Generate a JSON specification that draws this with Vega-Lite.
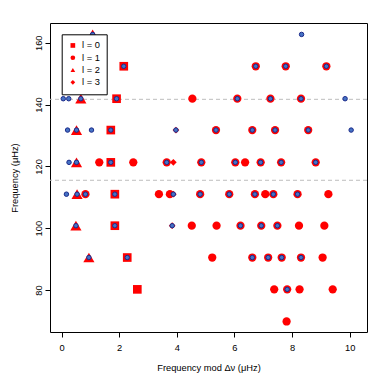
{
  "$schema": "https://vega.github.io/schema/vega-lite/v6.json",
  "width": 317,
  "height": 309,
  "autosize": {"type": "none"},
  "padding": {"left": 50, "top": 23, "right": 23, "bottom": 58},
  "background": "white",
  "config": {
    "font": "Liberation Sans",
    "view": {"stroke": "#000000", "strokeWidth": 1},
    "axis": {
      "grid": false,
      "domain": false,
      "tickColor": "#000000",
      "tickSize": 5,
      "labelColor": "#000000",
      "titleColor": "#000000",
      "labelFontSize": 9.3,
      "titleFontSize": 9.3,
      "titleFontWeight": "normal"
    },
    "legend": {
      "orient": "none",
      "legendX": 11.7,
      "legendY": 11.3,
      "padding": 6.5,
      "rowPadding": 2.3,
      "symbolSize": 22,
      "labelOffset": 4.5,
      "strokeColor": "#000000",
      "fillColor": "#ffffff",
      "labelFontSize": 9.3,
      "labelColor": "#000000",
      "symbolStrokeWidth": 0,
      "cornerRadius": 0
    }
  },
  "datasets": {
    "modes": [
      {"fm": 1.08, "nu": 162.7, "l": "l = 2", "obs": true},
      {"fm": 8.33, "nu": 162.7, "l": null, "obs": true},
      {"fm": 2.16, "nu": 152.4, "l": "l = 0", "obs": true},
      {"fm": 6.74, "nu": 152.4, "l": "l = 1", "obs": true},
      {"fm": 7.78, "nu": 152.4, "l": "l = 1", "obs": true},
      {"fm": 9.19, "nu": 152.4, "l": "l = 1", "obs": true},
      {"fm": 0.06, "nu": 141.9, "l": null, "obs": true},
      {"fm": 0.25, "nu": 141.9, "l": null, "obs": true},
      {"fm": 0.67, "nu": 141.9, "l": "l = 2", "obs": true},
      {"fm": 1.91, "nu": 141.9, "l": "l = 0", "obs": true},
      {"fm": 4.54, "nu": 141.9, "l": "l = 1", "obs": false},
      {"fm": 6.10, "nu": 141.9, "l": "l = 1", "obs": true},
      {"fm": 7.25, "nu": 141.9, "l": "l = 1", "obs": true},
      {"fm": 8.31, "nu": 141.9, "l": "l = 1", "obs": true},
      {"fm": 9.84, "nu": 141.9, "l": null, "obs": true},
      {"fm": 0.21, "nu": 131.75, "l": null, "obs": true},
      {"fm": 0.52, "nu": 131.75, "l": "l = 2", "obs": true},
      {"fm": 1.04, "nu": 131.75, "l": null, "obs": true},
      {"fm": 1.71, "nu": 131.75, "l": "l = 0", "obs": true},
      {"fm": 3.97, "nu": 131.75, "l": "l = 3", "obs": true},
      {"fm": 5.36, "nu": 131.75, "l": "l = 1", "obs": true},
      {"fm": 6.62, "nu": 131.75, "l": "l = 1", "obs": true},
      {"fm": 7.41, "nu": 131.75, "l": "l = 1", "obs": true},
      {"fm": 8.56, "nu": 131.75, "l": "l = 1", "obs": true},
      {"fm": 10.05, "nu": 131.75, "l": null, "obs": true},
      {"fm": 0.26, "nu": 121.3, "l": null, "obs": true},
      {"fm": 0.52, "nu": 121.3, "l": "l = 2", "obs": true},
      {"fm": 1.31, "nu": 121.3, "l": "l = 1", "obs": false},
      {"fm": 1.71, "nu": 121.3, "l": "l = 0", "obs": true},
      {"fm": 2.49, "nu": 121.3, "l": "l = 1", "obs": false},
      {"fm": 3.88, "nu": 121.3, "l": "l = 3", "obs": false},
      {"fm": 3.65, "nu": 121.3, "l": "l = 1", "obs": true},
      {"fm": 4.85, "nu": 121.3, "l": "l = 1", "obs": true},
      {"fm": 6.03, "nu": 121.3, "l": "l = 1", "obs": true},
      {"fm": 6.37, "nu": 121.3, "l": "l = 1", "obs": false},
      {"fm": 6.91, "nu": 121.3, "l": "l = 1", "obs": true},
      {"fm": 7.62, "nu": 121.3, "l": "l = 1", "obs": true},
      {"fm": 8.82, "nu": 121.3, "l": "l = 1", "obs": true},
      {"fm": 0.17, "nu": 111.0, "l": null, "obs": true},
      {"fm": 0.54, "nu": 111.0, "l": "l = 2", "obs": true},
      {"fm": 0.83, "nu": 111.0, "l": "l = 1", "obs": true},
      {"fm": 1.85, "nu": 111.0, "l": "l = 0", "obs": true},
      {"fm": 3.38, "nu": 111.0, "l": "l = 1", "obs": false},
      {"fm": 3.76, "nu": 111.0, "l": "l = 1", "obs": false},
      {"fm": 3.88, "nu": 111.0, "l": "l = 3", "obs": true},
      {"fm": 4.81, "nu": 111.0, "l": "l = 1", "obs": true},
      {"fm": 5.82, "nu": 111.0, "l": "l = 1", "obs": true},
      {"fm": 6.71, "nu": 111.0, "l": "l = 1", "obs": true},
      {"fm": 7.07, "nu": 111.0, "l": "l = 1", "obs": false},
      {"fm": 7.35, "nu": 111.0, "l": "l = 1", "obs": true},
      {"fm": 8.19, "nu": 111.0, "l": "l = 1", "obs": true},
      {"fm": 9.26, "nu": 111.0, "l": "l = 1", "obs": false},
      {"fm": 0.50, "nu": 100.8, "l": "l = 2", "obs": true},
      {"fm": 1.85, "nu": 100.8, "l": "l = 0", "obs": true},
      {"fm": 3.84, "nu": 100.8, "l": "l = 3", "obs": true},
      {"fm": 4.52, "nu": 100.8, "l": "l = 1", "obs": false},
      {"fm": 5.38, "nu": 100.8, "l": "l = 1", "obs": false},
      {"fm": 6.21, "nu": 100.8, "l": "l = 1", "obs": true},
      {"fm": 6.93, "nu": 100.8, "l": "l = 1", "obs": true},
      {"fm": 7.49, "nu": 100.8, "l": "l = 1", "obs": true},
      {"fm": 8.24, "nu": 100.8, "l": "l = 1", "obs": false},
      {"fm": 9.12, "nu": 100.8, "l": "l = 1", "obs": false},
      {"fm": 0.95, "nu": 90.5, "l": "l = 2", "obs": true},
      {"fm": 2.28, "nu": 90.5, "l": "l = 0", "obs": true},
      {"fm": 5.23, "nu": 90.5, "l": "l = 1", "obs": false},
      {"fm": 6.62, "nu": 90.5, "l": "l = 1", "obs": true},
      {"fm": 7.17, "nu": 90.5, "l": "l = 1", "obs": true},
      {"fm": 7.64, "nu": 90.5, "l": "l = 1", "obs": true},
      {"fm": 8.31, "nu": 90.5, "l": "l = 1", "obs": true},
      {"fm": 9.06, "nu": 90.5, "l": "l = 1", "obs": false},
      {"fm": 2.63, "nu": 80.2, "l": "l = 0", "obs": false},
      {"fm": 7.38, "nu": 80.2, "l": "l = 1", "obs": false},
      {"fm": 7.83, "nu": 80.2, "l": "l = 1", "obs": true},
      {"fm": 8.26, "nu": 80.2, "l": "l = 1", "obs": false},
      {"fm": 9.41, "nu": 80.2, "l": "l = 1", "obs": false},
      {"fm": 7.81, "nu": 69.8, "l": "l = 1", "obs": false}
    ],
    "lines": [{"nu": 141.7}, {"nu": 115.5}]
  },
  "encoding": {
    "y": {
      "field": "nu",
      "type": "quantitative",
      "scale": {"domain": [66.4, 166.4], "nice": false, "zero": false},
      "axis": {
        "title": "Frequency (μHz)",
        "values": [80, 100, 120, 140, 160],
        "labelAngle": -90,
        "labelAlign": "center",
        "labelBaseline": "bottom",
        "labelPadding": 2,
        "titlePadding": 15
      }
    }
  },
  "layer": [
    {
      "data": {"name": "lines"},
      "mark": {"type": "rule", "color": "#bdbdbd", "strokeDash": [4, 3], "strokeWidth": 1}
    },
    {
      "data": {"name": "modes"},
      "transform": [{"filter": "datum.l != null"}],
      "mark": {"type": "point", "filled": true, "opacity": 1, "color": "#ff0000", "strokeWidth": 0},
      "encoding": {
        "x": {
          "field": "fm",
          "type": "quantitative",
          "scale": {"domain": [-0.4, 10.6], "nice": false, "zero": false},
          "axis": {
            "title": "Frequency mod Δν (μHz)",
            "values": [0, 2, 4, 6, 8, 10],
            "labelPadding": 6,
            "titlePadding": 11
          }
        },
        "shape": {
          "field": "l",
          "type": "nominal",
          "scale": {
            "domain": ["l = 0", "l = 1", "l = 2", "l = 3"],
            "range": ["square", "circle", "triangle-up", "diamond"]
          },
          "legend": {"title": null}
        },
        "size": {
          "condition": [
            {"test": "datum.l == 'l = 3'", "value": 45},
            {"test": "datum.l == 'l = 2'", "value": 125},
            {"test": "datum.l == 'l = 0'", "value": 75}
          ],
          "value": 68
        }
      }
    },
    {
      "data": {"name": "modes"},
      "transform": [{"filter": "datum.obs"}],
      "mark": {"type": "circle", "fill": "#4572c4", "stroke": "#1b2a8a", "strokeWidth": 1, "size": 20, "opacity": 1},
      "encoding": {
        "x": {"field": "fm", "type": "quantitative"}
      }
    }
  ]
}
